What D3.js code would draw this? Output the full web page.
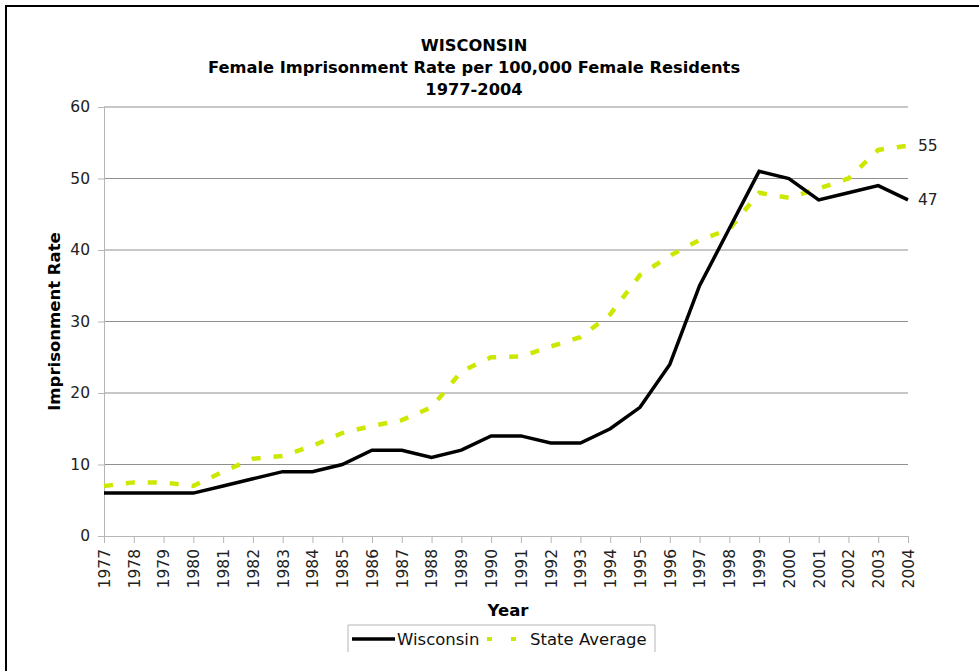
<!DOCTYPE html>
<html>
<head>
<meta charset="utf-8">
<script src="https://cdn.jsdelivr.net/npm/d3@7"></script>
<style>
html,body{margin:0;padding:0;background:#fff;}
svg{display:block;font-family:"DejaVu Sans",Verdana,sans-serif;}
</style>
</head>
<body>
<svg id="chart" width="979" height="671"></svg>
<script>
const years = [1977,1978,1979,1980,1981,1982,1983,1984,1985,1986,1987,1988,1989,1990,1991,1992,1993,1994,1995,1996,1997,1998,1999,2000,2001,2002,2003,2004];
const wisconsin = [6,6,6,6,7,8,9,9,10,12,12,11,12,14,14,13,13,15,18,24,35,43,51,50,47,48,49,47];
const stateAverage = [7,7.5,7.5,7,9,10.8,11.2,12.6,14.4,15.4,16.2,18,23,25,25.1,26.5,27.8,31,36.5,39.2,41.4,42.9,48,47.3,48.6,50,54,54.6];
const yTicks = [0,10,20,30,40,50,60];
const titleLines = ["WISCONSIN","Female Imprisonment Rate per 100,000 Female Residents","1977-2004"];
const endLabels = ["55","47"];
const seriesNames = ["Wisconsin","State Average"];

const svg = d3.select("#chart");
const margin = {left:104, right:71, top:107, bottom:135};
const W = 979, H = 671;
const x = d3.scalePoint().domain(years).range([margin.left, W - margin.right]);
const y = d3.scaleLinear().domain([0,60]).range([H - margin.bottom, margin.top]);

// outer frame
svg.append("rect").attr("x",6).attr("y",6).attr("width",1200).attr("height",1200)
  .attr("fill","none").attr("stroke","#000").attr("stroke-width",2);

// title
const title = svg.append("text").attr("text-anchor","middle").attr("font-weight","bold")
  .attr("font-size",16.3).attr("fill","#000");
titleLines.forEach((t,i)=>{
  title.append("tspan").attr("x",474).attr("y",51 + i*22).text(t);
});

// gridlines
svg.append("g").selectAll("line").data(yTicks.filter(d=>d>0)).join("line")
  .attr("x1",margin.left).attr("x2",W-margin.right)
  .attr("y1",d=>y(d)).attr("y2",d=>y(d))
  .attr("stroke","#8f8f8f").attr("stroke-width",1);

// y axis
const yAxis = svg.append("g").attr("transform",`translate(${margin.left},0)`)
  .call(d3.axisLeft(y).tickValues(yTicks).tickSize(6).tickPadding(8));
yAxis.select(".domain").attr("stroke","#b5b5b5");
yAxis.selectAll(".tick line").attr("stroke","#b5b5b5");
yAxis.selectAll(".tick text").attr("font-size",15.5).attr("fill","#222")
  .attr("font-family","DejaVu Sans, Verdana, sans-serif");

// x axis
const xAxis = svg.append("g").attr("transform",`translate(0,${y(0)})`)
  .call(d3.axisBottom(x).tickSizeInner(7).tickSizeOuter(0));
xAxis.select(".domain").attr("stroke","#b5b5b5");
xAxis.selectAll(".tick line").attr("stroke","#b5b5b5");
xAxis.selectAll(".tick text").attr("font-size",15.5).attr("fill","#222")
  .attr("font-family","DejaVu Sans, Verdana, sans-serif")
  .attr("text-anchor","end").attr("dy","0.35em")
  .attr("transform","translate(0,3) rotate(-90)").attr("x",-10).attr("y",0);

// axis titles
svg.append("text").attr("transform",`translate(60,${(y(0)+y(60))/2}) rotate(-90)`)
  .attr("text-anchor","middle").attr("font-weight","bold").attr("font-size",16.5).text("Imprisonment Rate");
svg.append("text").attr("x",508).attr("y",616).attr("text-anchor","middle")
  .attr("font-weight","bold").attr("font-size",16.5).text("Year");

const line = d3.line().x((d,i)=>x(years[i])).y(d=>y(d));

svg.append("path").datum(stateAverage).attr("d",line).attr("fill","none")
  .attr("stroke","#cde800").attr("stroke-width",4.5).attr("stroke-dasharray","9,13");
svg.append("path").datum(wisconsin).attr("d",line).attr("fill","none")
  .attr("stroke","#000").attr("stroke-width",3.5).attr("stroke-linejoin","miter");

// end labels
const lastI = years.length-1;
svg.append("text").attr("x",x(years[lastI])+10).attr("y",y(stateAverage[lastI])).attr("dy","0.35em")
  .attr("font-size",15.5).attr("fill","#222").text(endLabels[0]);
svg.append("text").attr("x",x(years[lastI])+10).attr("y",y(wisconsin[lastI])).attr("dy","0.35em")
  .attr("font-size",15.5).attr("fill","#222").text(endLabels[1]);

// legend
const lg = svg.append("g");
lg.append("path").attr("d","M348,652 V625 H655 V652").attr("fill","none").attr("stroke","#b5b5b5").attr("stroke-width",1);
lg.append("line").attr("x1",352).attr("x2",395).attr("y1",639).attr("y2",639).attr("stroke","#000").attr("stroke-width",3.5);
lg.append("text").attr("x",397).attr("y",645).attr("font-size",16.5).attr("fill","#111").text(seriesNames[0]);
lg.append("line").attr("x1",487).attr("x2",520).attr("y1",639).attr("y2",639)
  .attr("stroke","#cde800").attr("stroke-width",4).attr("stroke-dasharray","5,19");
lg.append("text").attr("x",530).attr("y",645).attr("font-size",16.5).attr("fill","#111").text(seriesNames[1]);
</script>
</body>
</html>
